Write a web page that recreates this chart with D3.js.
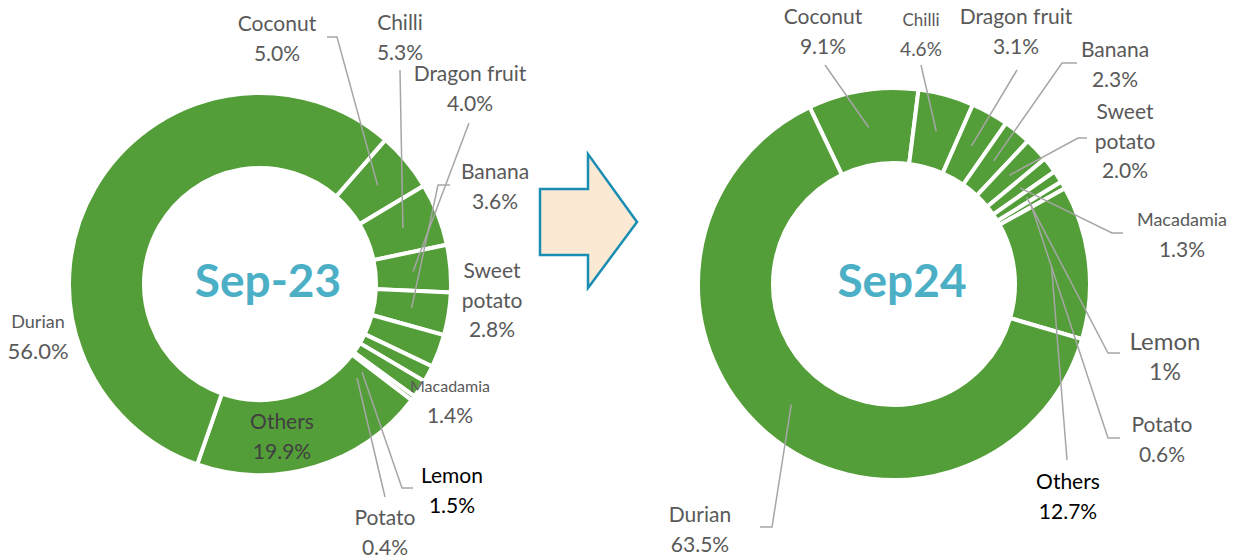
<!DOCTYPE html>
<html>
<head>
<meta charset="utf-8">
<title>Crop share Sep-23 vs Sep24</title>
<script src="https://d3js.org/d3.v7.min.js"></script>
<style>
    body { margin: 0; background: #fff; }
    svg { display: block; font-family: Lato, "Open Sans", sans-serif; }
    .slice { fill: #549E39; stroke: #fff; stroke-width: 4px; }
    .leader { fill: none; stroke: #A6A6A6; stroke-width: 1.5px; }
</style>
</head>
<body>
<svg width="1236" height="560"></svg>
<script>

    // data, same order for both years (clockwise from Coconut)
    var fruits = ["Coconut", "Chilli", "Dragon fruit", "Banana", "Sweet potato",
                  "Macadamia", "Lemon", "Potato", "Others", "Durian"];
    var share2023 = [5.0, 5.3, 4.0, 3.6, 2.8, 1.4, 1.5, 0.4, 19.9, 56.0];
    var share2024 = [9.1, 4.6, 3.1, 2.3, 2.0, 1.3, 1, 0.6, 12.7, 63.5];
    var pct2023 = ["5.0%", "5.3%", "4.0%", "3.6%", "2.8%", "1.4%", "1.5%", "0.4%", "19.9%", "56.0%"];
    var pct2024 = ["9.1%", "4.6%", "3.1%", "2.3%", "2.0%", "1.3%", "1%", "0.6%", "12.7%", "63.5%"];
    var titles = ["Sep-23", "Sep24"];

    // label layout: x, y of first line, font sizes, colour, leader points (label side)
    var layout2023 = [
        {x: 277, y: 24, fs: [21, 21], lead: [[327, 37], [337, 37]]},
        {x: 400, y: 23, fs: [21, 21], lead: [[400, 70]]},
        {x: 470, y: 74, fs: [21, 21], lead: [[469, 123]]},
        {x: 495, y: 172, fs: [21, 21], lead: [[450, 185], [438, 185]]},
        {x: 492, y: 271, fs: [21, 21, 21], split: true, lead: null},
        {x: 450, y: 386, fs: [16, 21], lead: null},
        {x: 452, y: 476, fs: [21, 21], color: "#000", lead: [[413, 488], [402, 488]], end: [362, 372]},
        {x: 385, y: 518, fs: [21, 21], lead: [[385, 497]], end: [357, 378]},
        {x: 282, y: 422, fs: [21, 21], color: "#404040", lead: null},
        {x: 38, y: 322, fs: [18, 22], lead: null}
    ];
    var layout2024 = [
        {x: 823, y: 17, fs: [21, 21], lead: [[825, 65]]},
        {x: 921, y: 20, fs: [17, 19], lead: [[921, 65]]},
        {x: 1016, y: 17, fs: [21, 21], lead: [[1017, 70]]},
        {x: 1115, y: 50, fs: [21, 21], lead: [[1077, 63], [1062, 63]]},
        {x: 1125, y: 112, fs: [21, 21, 21], split: true, lead: [[1087, 138], [1078, 138]]},
        {x: 1182, y: 220, fs: [18, 21], lead: [[1123, 233], [1112, 233]]},
        {x: 1165, y: 342, fs: [24, 23], lead: [[1120, 353], [1108, 353]]},
        {x: 1162, y: 425, fs: [21, 21], lead: [[1120, 438], [1108, 438]]},
        {x: 1068, y: 482, fs: [21, 21], color: "#000", lead: [[1067, 460]]},
        {x: 700, y: 515, fs: [21, 21], lead: [[760, 527], [772, 527]]}
    ];

    var svg = d3.select("svg");

    // arrow between the two donuts
    svg.append("polygon")
        .attr("points", "540,189 588,189 588,154 637,222 588,288 588,255 540,255")
        .attr("fill", "#FBE9D3")
        .attr("stroke", "#1A8DB3")
        .attr("stroke-width", 2.5)
        .attr("stroke-linejoin", "miter");

    function donut(values, pcts, layout, title, cx, cy, rOut, rIn, start) {
        var g = svg.append("g");
        var deg = Math.PI / 180;

        var pie = d3.pie().sort(null).value(function(d) { return d; })
            .startAngle(start * deg).endAngle(start * deg + 2 * Math.PI);
        var arc = d3.arc().innerRadius(rIn).outerRadius(rOut);
        var arcs = pie(values);

        g.append("g").attr("transform", "translate(" + cx + "," + cy + ")")
            .selectAll("path")
            .data(arcs)
            .enter().append("path")
            .attr("class", "slice")
            .attr("d", arc);

        // leader lines
        arcs.forEach(function(a, i) {
            var L = layout[i];
            if (!L.lead) return;
            var c = arc.centroid(a);
            var end = L.end || [cx + c[0], cy + c[1]];
            var pts = L.lead.concat([end]);
            g.append("path")
                .attr("class", "leader")
                .attr("d", d3.line()(pts));
        });

        // labels
        arcs.forEach(function(a, i) {
            var L = layout[i];
            var lines = L.split ? fruits[i].split(" ") : [fruits[i]];
            lines.push(pcts[i]);
            var t = g.append("text")
                .attr("text-anchor", "middle")
                .attr("fill", L.color || "#595959");
            lines.forEach(function(s, k) {
                t.append("tspan")
                    .attr("x", L.x)
                    .attr("y", L.y + k * 29.5)
                    .attr("dy", "0.35em")
                    .style("font-size", L.fs[k] + "px")
                    .text(s);
            });
        });

        g.append("text")
            .attr("x", cx + 8)
            .attr("y", cy - 3)
            .attr("dy", "0.35em")
            .attr("text-anchor", "middle")
            .attr("fill", "#4BAFC6")
            .style("font-size", "46px")
            .style("font-weight", "bold")
            .text(title);
    }

    donut(share2023, pct2023, layout2023, titles[0], 260, 284, 191, 116, 41);
    donut(share2024, pct2024, layout2024, titles[1], 894, 284, 196, 121, -25.5);

</script>
</body>
</html>
